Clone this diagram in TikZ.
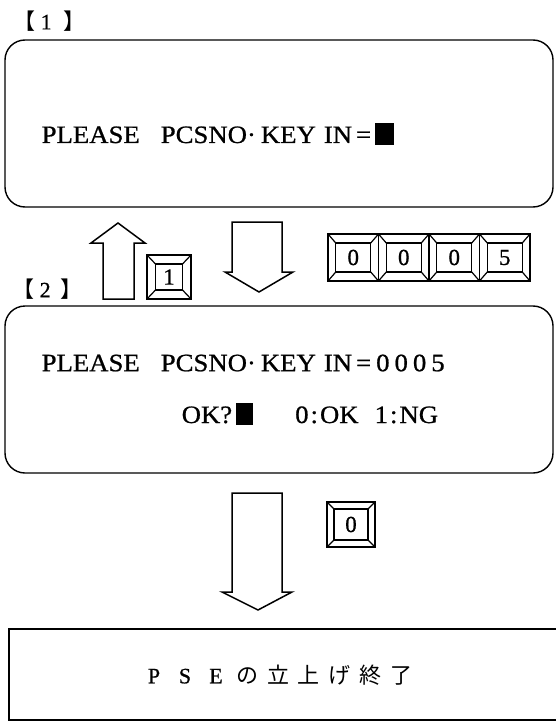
\documentclass[tikz,border=0pt]{standalone}
\usepackage{fontspec}
\setmainfont[FakeStretch=1.07,FakeBold=0.8]{Liberation Serif}
\newfontfamily\jpfont{Noto Sans CJK JP}
\newfontfamily\plainserif[FakeBold=0.8]{Liberation Serif}
\newcommand\blk[1]{\rule[-2pt]{#1}{22pt}}
\newcommand\jpc[1]{\makebox[31pt]{#1}}
\newcommand\keycap[8]{%
  \node[keyout,minimum width=#4pt,minimum height=#5pt] (#1) at (#2,#3) {};
  \node[keyin,minimum width=#6pt,minimum height=#7pt] (#1i) at (#1) {#8};
  \draw[keyline] (#1.north west)--(#1i.north west) (#1.north east)--(#1i.north east)
                 (#1.south west)--(#1i.south west) (#1.south east)--(#1i.south east);
}
\begin{document}
\begin{tikzpicture}[x=1pt,y=-1pt,line width=1.4pt,
  panel/.style={draw,rounded corners=20pt,inner sep=0pt,outer sep=0pt},
  msg/.style={anchor=west,inner sep=0pt,font=\fontsize{25}{28}\selectfont},
  tag/.style={inner sep=0pt,anchor=west,font=\fontsize{22}{24}\selectfont},
  keyout/.style={draw,inner sep=0pt,outer sep=0pt,line width=1.6pt},
  keyin/.style={draw,inner sep=0pt,outer sep=0pt,line width=1.2pt,font=\plainserif\fontsize{23}{24}\selectfont},
  keyline/.style={line width=1.2pt},
  blockarrow/.style={draw,line width=1.5pt,line join=miter}]
\useasboundingbox (0,0) rectangle (555,722);

% labels
\node[tag] (tag1) at (13,21) {{\jpfont 【}\hspace{5pt}\plainserif 1\hspace{12pt}{\jpfont 】}};
\node[tag] (tag2) at (12,289) {{\jpfont 【}\hspace{5pt}\plainserif 2\hspace{10pt}{\jpfont 】}};

% panels
\node[panel,minimum width=548pt,minimum height=167pt] (p1) at (279,123.5) {};
\node[panel,minimum width=548pt,minimum height=167pt] (p2) at (279,389.5) {};
\draw (556,629) -- (9,629) -- (9,720) -- (556,720);

% texts
\node[msg] (t1) at (41,134) {PLEASE\hspace{21pt}PCSNO·\hspace{5pt}KEY\hspace{8pt}IN\hspace{4pt}=\hspace{4pt}\blk{19pt}};
\node[msg] (t2a) at (41,363) {PLEASE\hspace{21pt}PCSNO·\hspace{5pt}KEY\hspace{8pt}IN\hspace{4pt}=\hspace{5pt}0\hspace{5pt}0\hspace{5pt}0\hspace{5pt}5};
\node[msg] (t2b) at (181,414) {OK?\hspace{4pt}\blk{17pt}\hspace{42pt}0\hspace{2pt}:\hspace{2pt}OK\hspace{16pt}1\hspace{2pt}:\hspace{2pt}NG};
\node[inner sep=0pt,font=\fontsize{22}{26}\selectfont] (t3) at (278,675)
  {\plainserif\jpc{P}\jpc{S}\jpc{E}\jpc{\jpfont の}\jpc{\jpfont 立}\jpc{\jpfont 上}\jpc{\jpfont げ}\jpc{\jpfont 終}\jpc{\jpfont 了}};

% block arrows
\draw[blockarrow] (103,299) -- (103,243) -- (91,243) -- (118,223) -- (145,243) -- (134,243) -- (134,299) -- cycle;
\draw[blockarrow] (232,222) -- (282,222) -- (282,272) -- (293,272) -- (259,292) -- (225,272) -- (232,272) -- cycle;
\draw[blockarrow] (232,493) -- (282,493) -- (282,592) -- (292,592) -- (258,610) -- (222,592) -- (232,592) -- cycle;

% keys
\keycap{k1}{169}{277}{44}{44}{27}{26}{1}
\keycap{ka}{353.25}{257.5}{50.5}{47}{35}{29}{0}
\keycap{kb}{403.75}{257.5}{50.5}{47}{35}{29}{0}
\keycap{kc}{454.25}{257.5}{50.5}{47}{35}{29}{0}
\keycap{kd}{504.75}{257.5}{50.5}{47}{35}{29}{5}
\keycap{k0}{351}{524.5}{48}{45}{34}{31}{0}
\end{tikzpicture}
\end{document}
